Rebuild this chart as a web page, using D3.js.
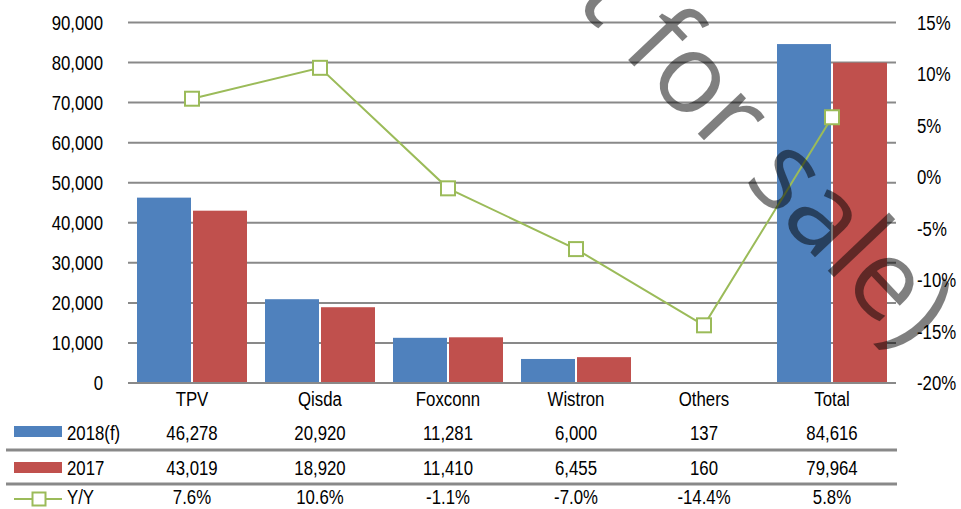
<!DOCTYPE html>
<html>
<head>
<meta charset="utf-8">
<script src="https://cdn.jsdelivr.net/npm/d3@7"></script>
<style>
  body { margin: 0; background: #fff; }
  svg { display: block; }
  svg text { font-family: "Liberation Sans", Arial, sans-serif; }
  svg text.wm { font-family: "Open Sans", sans-serif; }
</style>
</head>
<body>
<div id="chart"></div>
<script>
// data
const categories = ["TPV", "Qisda", "Foxconn", "Wistron", "Others", "Total"];
const series = ["2018(f)", "2017"];
const values2018 = [46278, 20920, 11281, 6000, 137, 84616];
const values2017 = [43019, 18920, 11410, 6455, 160, 79964];
const yoy = [7.6, 10.6, -1.1, -7.0, -14.4, 5.8];
const leftTicks = [0, 10000, 20000, 30000, 40000, 50000, 60000, 70000, 80000, 90000];
const rightTicks = [-20, -15, -10, -5, 0, 5, 10, 15];

const width = 961, height = 509;
const colors = {"2018(f)": "#4F81BD", "2017": "#C0504D"};
const green = "#9BBB59";
const gridColor = "#898989";
const fontSize = 21;

const svg = d3.select("#chart").append("svg")
    .attr("width", width)
    .attr("height", height);

// the original uses a condensed face; squeeze the glyphs horizontally around their anchor
function squeeze(sel, k = 0.8) {
    sel.each(function() {
        const t = d3.select(this);
        const ax = +t.attr("x") || 0;
        t.attr("transform", `translate(${ax},0) scale(${k},1) translate(${-ax},0)`);
    });
}

// scales
const x = d3.scaleBand().domain(categories).range([128, 896]);
const xs = d3.scaleBand().domain(series).range([9, 119]).paddingInner(0.036);
const y = d3.scaleLinear().domain([0, 90000]).range([383, 22.5]);
const y2 = d3.scaleLinear().domain([-20, 15]).range([383, 22.5]);

// gridlines
svg.append("g")
    .selectAll("line")
    .data(leftTicks)
    .join("line")
    .attr("x1", 128).attr("x2", 896)
    .attr("y1", d => y(d)).attr("y2", d => y(d))
    .attr("stroke", gridColor)
    .attr("stroke-width", 2);

// left axis
const fmt = d3.format(",");
svg.append("g")
    .attr("transform", "translate(128,0)")
    .call(d3.axisLeft(y).tickValues(leftTicks).tickFormat(fmt).tickSize(0).tickPadding(25))
    .call(g => g.select(".domain").remove())
    .selectAll("text")
    .attr("font-size", fontSize)
    .attr("fill", "#000")
    .call(squeeze);

// right axis
svg.append("g")
    .attr("transform", "translate(896,0)")
    .call(d3.axisRight(y2).tickValues(rightTicks).tickFormat(d => d + "%").tickSize(0).tickPadding(21))
    .call(g => g.select(".domain").remove())
    .selectAll("text")
    .attr("font-size", fontSize)
    .attr("fill", "#000")
    .call(squeeze);

// bars
const rows = categories.map((c, i) => ({cat: c, "2018(f)": values2018[i], "2017": values2017[i]}));
const groups = svg.append("g")
    .selectAll("g")
    .data(rows)
    .join("g")
    .attr("transform", d => `translate(${x(d.cat)},0)`);

groups.selectAll("rect")
    .data(d => series.map(s => ({s, v: d[s]})))
    .join("rect")
    .attr("x", d => xs(d.s))
    .attr("width", xs.bandwidth())
    .attr("y", d => y(d.v))
    .attr("height", d => y(0) - y(d.v))
    .attr("fill", d => colors[d.s]);

// baseline on top of bars
svg.append("line")
    .attr("x1", 128).attr("x2", 896)
    .attr("y1", y(0)).attr("y2", y(0))
    .attr("stroke", gridColor)
    .attr("stroke-width", 2);

// Y/Y line
const cx = c => x(c) + x.bandwidth() / 2;
const line = d3.line()
    .x((d, i) => cx(categories[i]))
    .y(d => y2(d));

svg.append("path")
    .datum(yoy)
    .attr("d", line)
    .attr("fill", "none")
    .attr("stroke", green)
    .attr("stroke-width", 2);

svg.append("g")
    .selectAll("rect")
    .data(yoy)
    .join("rect")
    .attr("x", (d, i) => cx(categories[i]) - 7)
    .attr("y", d => y2(d) - 7)
    .attr("width", 14)
    .attr("height", 14)
    .attr("fill", "#fff")
    .attr("stroke", green)
    .attr("stroke-width", 2);

// data table
const table = svg.append("g").attr("font-size", fontSize).attr("fill", "#000");

table.selectAll("text.cat")
    .data(categories)
    .join("text")
    .attr("class", "cat")
    .attr("x", d => cx(d))
    .attr("y", 398)
    .attr("dy", "0.36em")
    .attr("text-anchor", "middle")
    .text(d => d);

const tableRows = [
    {label: "2018(f)", y: 432, vals: values2018.map(fmt)},
    {label: "2017", y: 467, vals: values2017.map(fmt)},
    {label: "Y/Y", y: 496.5, vals: yoy.map(v => v.toFixed(1) + "%")}
];

tableRows.forEach(r => {
    table.append("text")
        .attr("x", 67)
        .attr("y", r.y)
        .attr("dy", "0.36em")
        .text(r.label);
    table.selectAll(null)
        .data(r.vals)
        .join("text")
        .attr("x", (d, i) => cx(categories[i]))
        .attr("y", r.y)
        .attr("dy", "0.36em")
        .attr("text-anchor", "middle")
        .text(d => d);
});
table.selectAll("text").call(squeeze);

// separators
svg.append("g")
    .selectAll("line")
    .data([450, 484])
    .join("line")
    .attr("x1", 6).attr("x2", 897)
    .attr("y1", d => d).attr("y2", d => d)
    .attr("stroke", gridColor)
    .attr("stroke-width", 3);

// legend keys
svg.append("rect").attr("x", 14).attr("y", 426).attr("width", 48).attr("height", 11).attr("fill", colors["2018(f)"]);
svg.append("rect").attr("x", 14).attr("y", 462).attr("width", 48).attr("height", 11).attr("fill", colors["2017"]);
svg.append("line").attr("x1", 14).attr("x2", 62).attr("y1", 499).attr("y2", 499)
    .attr("stroke", green).attr("stroke-width", 2);
svg.append("rect").attr("x", 32.5).attr("y", 492.5).attr("width", 13).attr("height", 13)
    .attr("fill", "#fff").attr("stroke", green).attr("stroke-width", 2);

// watermark
svg.append("text")
    .attr("class", "wm")
    .attr("transform", "translate(906,353) rotate(46.5)")
    .attr("text-anchor", "end")
    .attr("font-size", 111)
    .attr("fill", "rgba(0,0,0,0.5)")
    .text("(Not for sale)");
</script>
</body>
</html>
